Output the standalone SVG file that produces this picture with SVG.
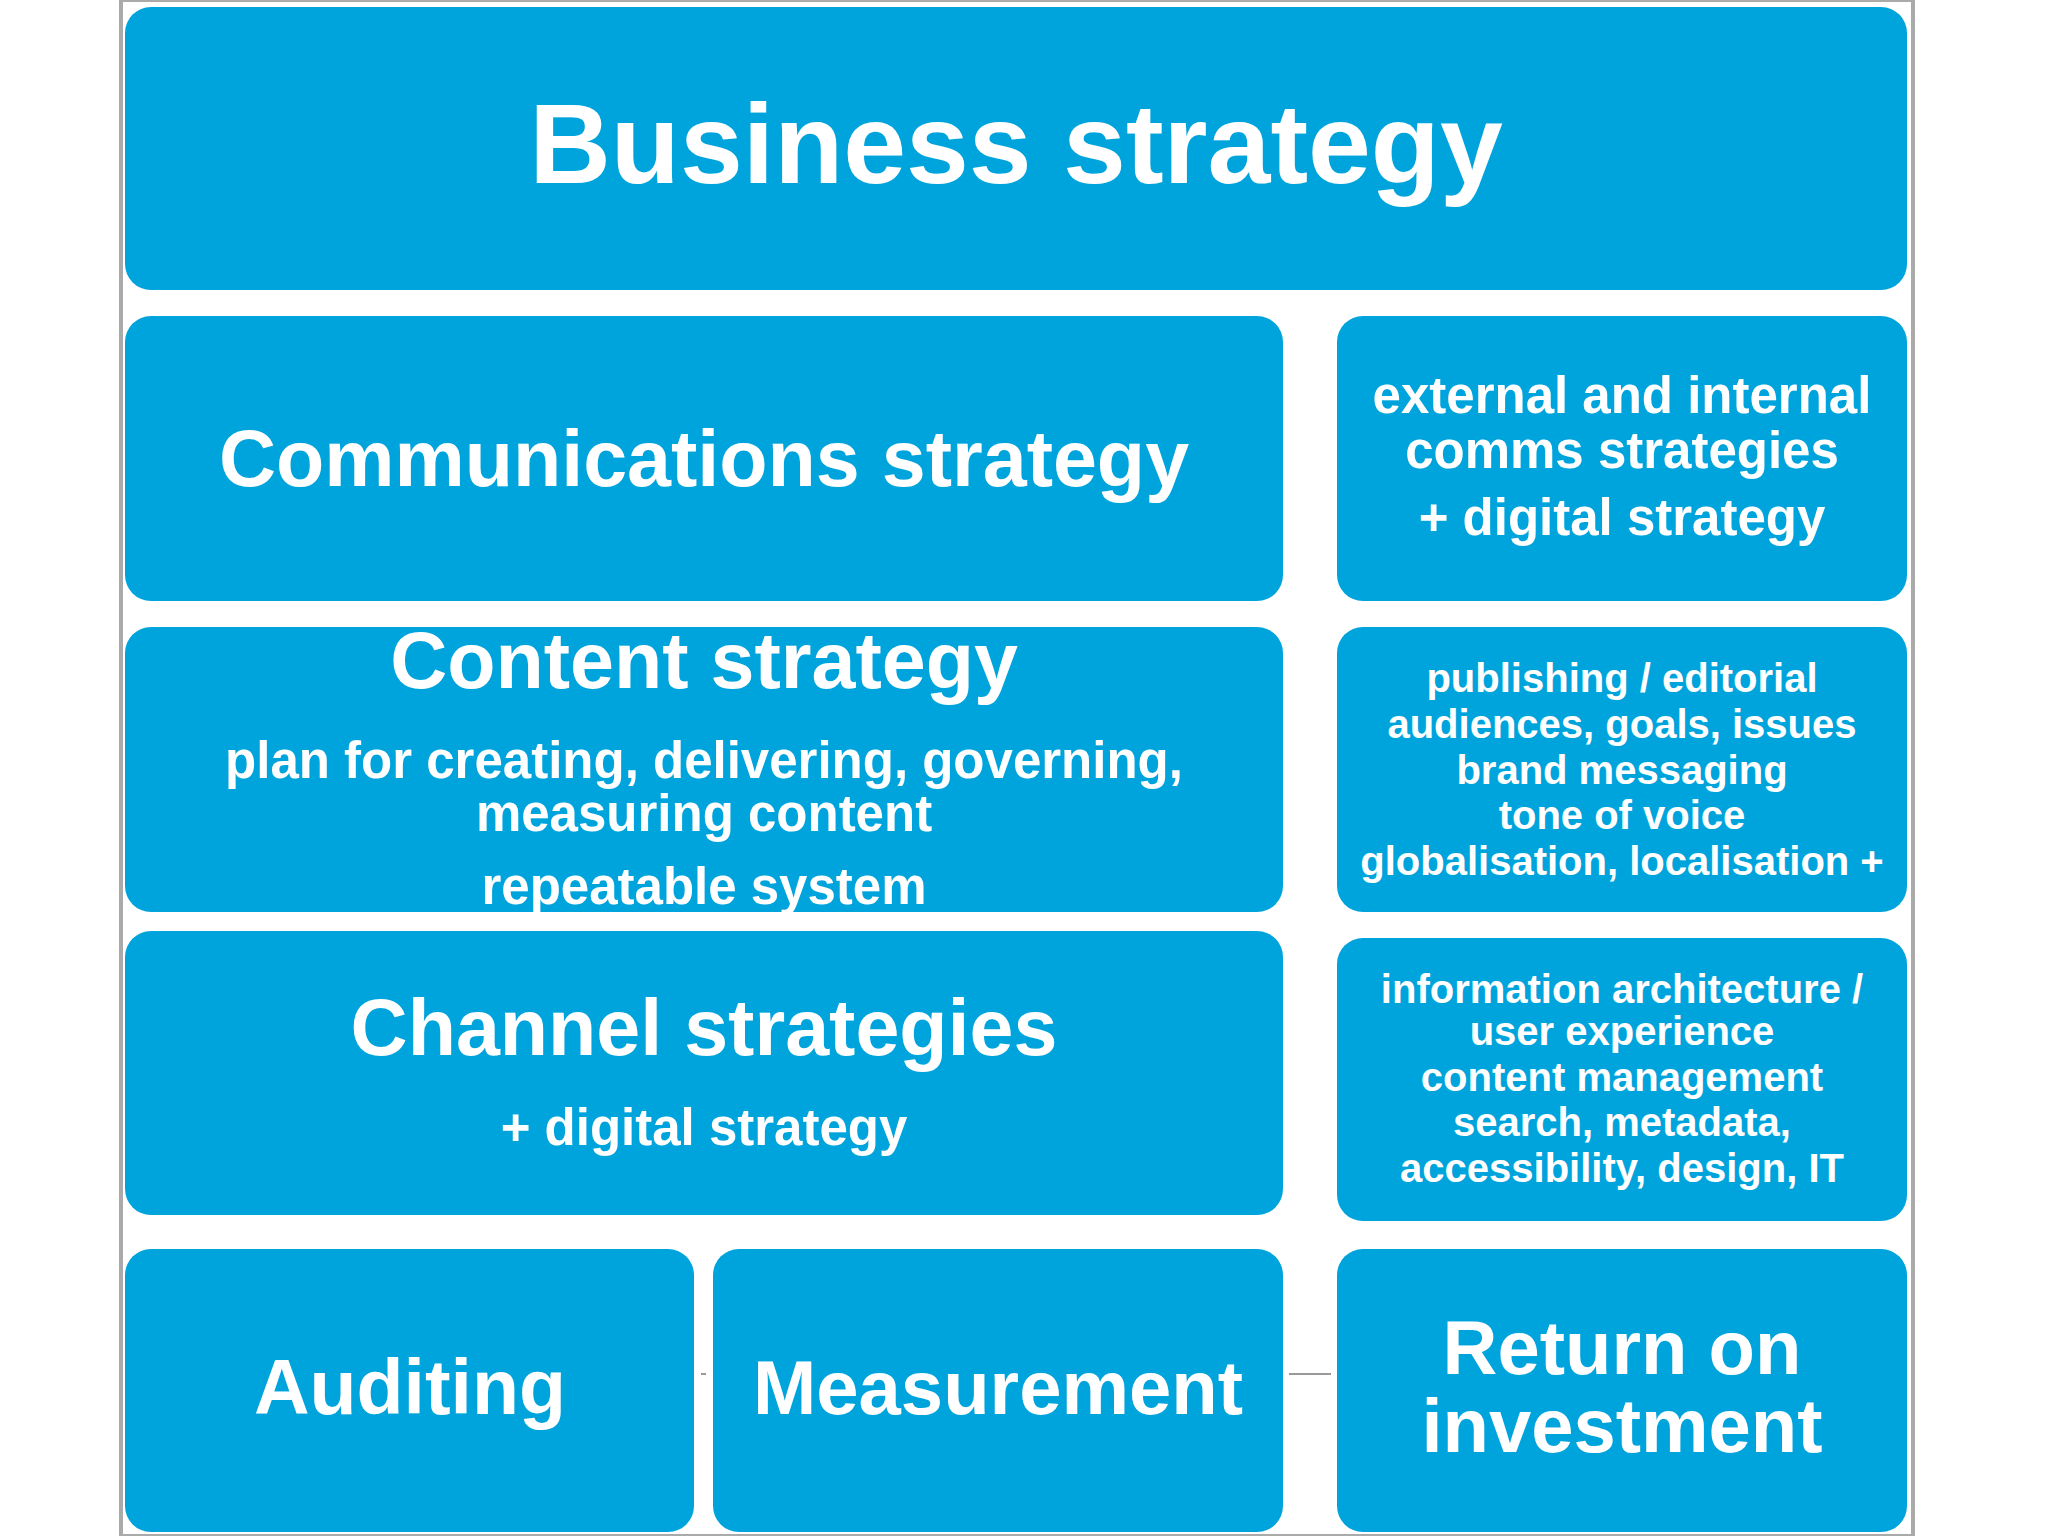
<svg xmlns="http://www.w3.org/2000/svg" width="2048" height="1536" viewBox="0 0 2048 1536">
<style>
.b{fill:#00A4DC}
text{fill:#fff;font-family:"Liberation Sans",Arial,sans-serif;font-weight:bold;text-anchor:middle}
</style>
<rect width="2048" height="1536" fill="#fff"/>
<rect x="121" y="0" width="1792" height="1536" fill="none" stroke="#aaa" stroke-width="4"/>
<g id="connectors" stroke="#999" stroke-width="2">
<line x1="1289" y1="1374" x2="1331" y2="1374"/>
<line x1="701" y1="1374" x2="706" y2="1374"/>
</g>
<g id="business"><rect class="b" x="125" y="7" width="1782" height="283" rx="26"/><text x="1016" y="183" font-size="113">Business strategy</text></g>
<g id="comms"><rect class="b" x="125" y="316" width="1158" height="285" rx="26"/><text x="704" y="486" font-size="79">Communications strategy</text></g>
<g id="comms-detail"><rect class="b" x="1337" y="316" width="570" height="285" rx="26"/><text font-size="51"><tspan x="1622" y="413">external and internal</tspan><tspan x="1622" y="468">comms strategies</tspan><tspan x="1622" y="535">+ digital strategy</tspan></text></g>
<g id="content"><rect class="b" x="125" y="627" width="1158" height="285" rx="26"/><text x="704" y="688" font-size="79">Content strategy</text><text font-size="51"><tspan x="704" y="778">plan for creating, delivering, governing,</tspan><tspan x="704" y="831">measuring content</tspan><tspan x="704" y="904">repeatable system</tspan></text></g>
<g id="content-detail"><rect class="b" x="1337" y="627" width="570" height="285" rx="26"/><text font-size="40"><tspan x="1622" y="692">publishing / editorial</tspan><tspan x="1622" y="738">audiences, goals, issues</tspan><tspan x="1622" y="784">brand messaging</tspan><tspan x="1622" y="829">tone of voice</tspan><tspan x="1622" y="875">globalisation, localisation +</tspan></text></g>
<g id="channel"><rect class="b" x="125" y="931" width="1158" height="284" rx="26"/><text x="704" y="1055" font-size="79">Channel strategies</text><text x="704" y="1145" font-size="51">+ digital strategy</text></g>
<g id="channel-detail"><rect class="b" x="1337" y="938" width="570" height="283" rx="26"/><text font-size="40"><tspan x="1622" y="1003">information architecture /</tspan><tspan x="1622" y="1045">user experience</tspan><tspan x="1622" y="1091">content management</tspan><tspan x="1622" y="1136">search, metadata,</tspan><tspan x="1622" y="1182">accessibility, design, IT</tspan></text></g>
<g id="auditing"><rect class="b" x="125" y="1249" width="569" height="283" rx="26"/><text x="410" y="1414" font-size="77">Auditing</text></g>
<g id="measurement"><rect class="b" x="713" y="1249" width="570" height="283" rx="26"/><text x="998" y="1414" font-size="76">Measurement</text></g>
<g id="roi"><rect class="b" x="1337" y="1249" width="570" height="283" rx="26"/><text font-size="76"><tspan x="1622" y="1374">Return on</tspan><tspan x="1622" y="1452">investment</tspan></text></g>
</svg>
